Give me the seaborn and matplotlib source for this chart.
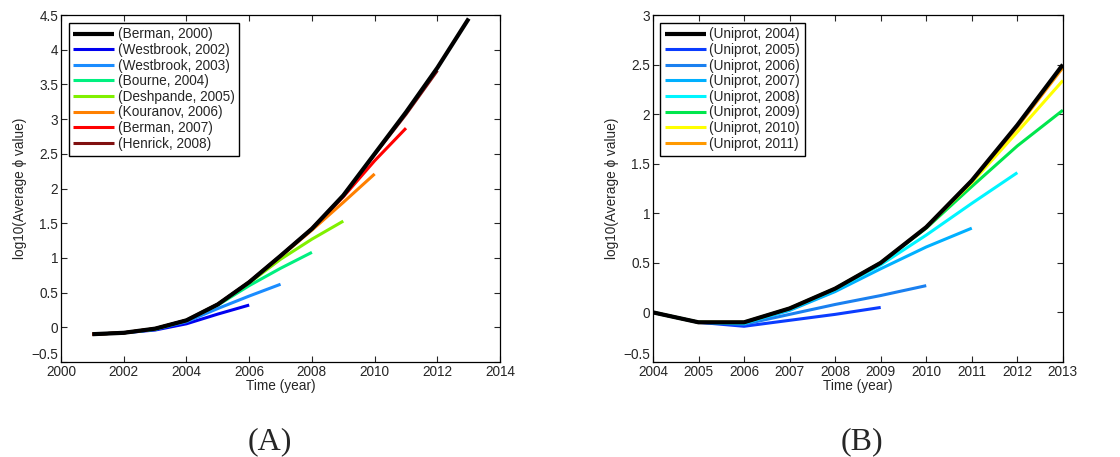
import numpy as np
import pandas as pd
import matplotlib
matplotlib.use('Agg')
import matplotlib.pyplot as plt
import seaborn as sns

# ---------------------------------------------------------
# Dữ liệu panel (A)
# ---------------------------------------------------------
years_a = list(range(2001, 2014))
labels_a = ['(Berman, 2000)', '(Westbrook, 2002)', '(Westbrook, 2003)', '(Bourne, 2004)',
            '(Deshpande, 2005)', '(Kouranov, 2006)', '(Berman, 2007)', '(Henrick, 2008)']
colors_a = ['#000000', '#0000f0', '#1a8cff', '#00f080', '#80f000', '#ff8000', '#ff0000', '#801010']
berman_2000 = [-0.10, -0.08, -0.02, 0.10, 0.33, 0.65, 1.03, 1.42, 1.90, 2.50, 3.10, 3.74, 4.45]
westbrook_2002 = [-0.10, -0.08, -0.04, 0.05, 0.19, 0.32]
westbrook_2003 = [-0.10, -0.08, -0.03, 0.08, 0.27, 0.45, 0.62]
bourne_2004 = [-0.10, -0.08, -0.03, 0.10, 0.32, 0.60, 0.85, 1.08]
deshpande_2005 = [-0.10, -0.08, -0.02, 0.10, 0.33, 0.64, 0.98, 1.27, 1.53]
kouranov_2006 = [-0.10, -0.08, -0.02, 0.10, 0.33, 0.65, 1.02, 1.40, 1.80, 2.21]
berman_2007 = [-0.10, -0.08, -0.02, 0.10, 0.33, 0.65, 1.03, 1.42, 1.88, 2.40, 2.87]
henrick_2008 = [-0.10, -0.08, -0.02, 0.10, 0.33, 0.65, 1.03, 1.42, 1.90, 2.49, 3.07, 3.70]
series_a = [berman_2000, westbrook_2002, westbrook_2003, bourne_2004,
            deshpande_2005, kouranov_2006, berman_2007, henrick_2008]

# ---------------------------------------------------------
# Dữ liệu panel (B)
# ---------------------------------------------------------
years_b = list(range(2004, 2014))
labels_b = ['(Uniprot, %d)' % y for y in range(2004, 2012)]
colors_b = ['#000000', '#0a3cff', '#1a80f0', '#00b0ff', '#00f5ff', '#00e64d', '#ffff00', '#ff9900']
uniprot_2004 = [0.00, -0.10, -0.10, 0.04, 0.24, 0.50, 0.86, 1.33, 1.89, 2.50]
uniprot_2005 = [0.00, -0.10, -0.14, -0.08, -0.02, 0.05]
uniprot_2006 = [0.00, -0.10, -0.12, -0.02, 0.08, 0.17, 0.27]
uniprot_2007 = [0.00, -0.10, -0.11, 0.02, 0.21, 0.44, 0.66, 0.85]
uniprot_2008 = [0.00, -0.10, -0.11, 0.03, 0.23, 0.48, 0.78, 1.10, 1.41]
uniprot_2009 = [0.00, -0.10, -0.10, 0.04, 0.24, 0.50, 0.85, 1.27, 1.68, 2.04]
uniprot_2010 = [0.00, -0.10, -0.10, 0.04, 0.24, 0.50, 0.86, 1.31, 1.82, 2.34]
uniprot_2011 = [0.00, -0.10, -0.10, 0.04, 0.24, 0.50, 0.86, 1.33, 1.87, 2.47]
series_b = [uniprot_2004, uniprot_2005, uniprot_2006, uniprot_2007,
            uniprot_2008, uniprot_2009, uniprot_2010, uniprot_2011]

sns.set_theme(style="ticks")
plt.rcParams['font.family'] = ['Liberation Sans', 'DejaVu Sans']
plt.rcParams['xtick.direction'] = 'in'
plt.rcParams['ytick.direction'] = 'in'

FS = 9.8

fig = plt.figure(figsize=(11.2, 4.57), dpi=100)
ax_a = fig.add_axes([0.0545, 0.208, 0.392, 0.759])
ax_b = fig.add_axes([0.583, 0.208, 0.366, 0.759])


def draw_panel(ax, years, series, labels, colors):
    # vẽ các đường màu trước, đường đen (index 0) vẽ sau cùng để nằm trên
    order = list(range(1, len(series))) + [0]
    for i in order:
        vals = series[i]
        df = pd.DataFrame({'year': years[:len(vals)], 'value': vals})
        lw = 3.0 if i == 0 else 2.2
        sns.lineplot(data=df, x='year', y='value', ax=ax, color=colors[i], lw=lw,
                     label=labels[i], legend=False)
    lines = {ln.get_label(): ln for ln in ax.get_lines()}
    for ln in lines.values():
        ln.set_solid_capstyle('butt')
    handles = [lines[lab] for lab in labels]
    leg = ax.legend(handles, labels, loc='upper left', fontsize=FS, frameon=True,
                    fancybox=False, edgecolor='black', handlelength=3.0,
                    labelspacing=0.12, borderpad=0.35, handletextpad=0.25,
                    borderaxespad=0.55)
    leg.get_frame().set_linewidth(1.0)
    leg.get_frame().set_alpha(1)
    ax.set_xlabel('Time (year)', fontsize=FS, labelpad=0)
    ax.set_ylabel('log10(Average \u03d5 value)', fontsize=FS, labelpad=3)
    ax.tick_params(labelsize=FS, top=True, right=True, length=4, width=0.8, pad=2)
    for s in ax.spines.values():
        s.set_linewidth(0.9)
        s.set_color('black')


draw_panel(ax_a, years_a, series_a, labels_a, colors_a)
ax_a.set_xlim(2000, 2014)
ax_a.set_ylim(-0.5, 4.5)
ax_a.set_xticks(range(2000, 2015, 2))
ax_a.set_yticks(np.arange(-0.5, 4.51, 0.5))
ax_a.set_yticklabels(['\u22120.5', '0', '0.5', '1', '1.5', '2', '2.5', '3', '3.5', '4', '4.5'])

draw_panel(ax_b, years_b, series_b, labels_b, colors_b)
ax_b.set_xlim(2004, 2013)
ax_b.set_ylim(-0.5, 3)
ax_b.set_xticks(range(2004, 2014))
ax_b.set_yticks(np.arange(-0.5, 3.01, 0.5))
ax_b.set_yticklabels(['\u22120.5', '0', '0.5', '1', '1.5', '2', '2.5', '3'])

# dịch nhãn -0.5 lên một chút để không chạm nhãn năm đầu tiên
for ax in (ax_a, ax_b):
    ax.get_yticklabels()[0].set_va('bottom')

fig.text(270 / 1120, 1 - 442 / 457, '(A)', ha='center', va='center',
         fontsize=23, family=['Liberation Serif'])
fig.text(862 / 1120, 1 - 442 / 457, '(B)', ha='center', va='center',
         fontsize=23, family=['Liberation Serif'])

fig.savefig('out.png', dpi=100)
